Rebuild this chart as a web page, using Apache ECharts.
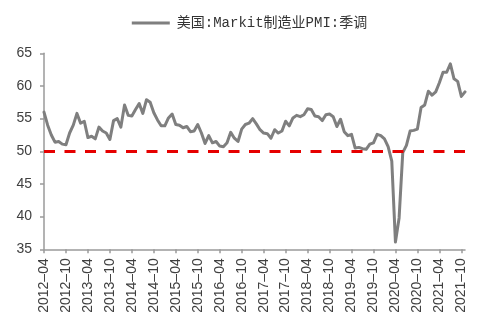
<!DOCTYPE html>
<html>
<head>
<meta charset="utf-8">
<script src="https://cdn.jsdelivr.net/npm/echarts@6/dist/echarts.min.js"></script>
<style>
  html, body { margin: 0; padding: 0; background: #ffffff; }
  #chart { width: 499px; height: 326px; }
</style>
</head>
<body>
<div id="chart"></div>
<script>
// Monthly categories, 2012-04 through 2021-11
const months = [];
for (let y = 2012; y <= 2021; y++) {
  for (let m = 1; m <= 12; m++) {
    if (y === 2012 && m < 4) continue;
    if (y === 2021 && m > 11) continue;
    months.push(y + '-' + String(m).padStart(2, '0'));
  }
}

const seriesName = '美国:Markit制造业PMI:季调';

// US Markit manufacturing PMI (seasonally adjusted), one value per month
const pmi2012 = [56.0, 54.0, 52.5, 51.4, 51.5, 51.1, 51.0, 52.8, 54.0];
const pmi2013 = [55.8, 54.3, 54.6, 52.1, 52.3, 51.9, 53.7, 53.1, 52.8, 51.8, 54.7, 55.0];
const pmi2014 = [53.7, 57.1, 55.5, 55.4, 56.4, 57.3, 55.8, 57.9, 57.5, 55.9, 54.8, 53.9];
const pmi2015 = [53.9, 55.1, 55.7, 54.1, 54.0, 53.6, 53.8, 53.0, 53.1, 54.1, 52.8, 51.2];
const pmi2016 = [52.4, 51.3, 51.5, 50.8, 50.7, 51.3, 52.9, 52.0, 51.5, 53.4, 54.1, 54.3];
const pmi2017 = [55.0, 54.2, 53.3, 52.8, 52.7, 52.0, 53.3, 52.8, 53.1, 54.6, 53.9, 55.1];
const pmi2018 = [55.5, 55.3, 55.6, 56.5, 56.4, 55.4, 55.3, 54.7, 55.6, 55.7, 55.3, 53.8];
const pmi2019 = [54.9, 53.0, 52.4, 52.6, 50.5, 50.6, 50.4, 50.3, 51.1, 51.3, 52.6, 52.4];
const pmi2020 = [51.9, 50.7, 48.5, 36.1, 39.8, 49.8, 50.9, 53.1, 53.2, 53.4, 56.7, 57.1];
const pmi2021 = [59.2, 58.6, 59.1, 60.5, 62.1, 62.1, 63.4, 61.1, 60.7, 58.4, 59.1];

const pmiValues = [].concat(pmi2012, pmi2013, pmi2014, pmi2015, pmi2016,
                            pmi2017, pmi2018, pmi2019, pmi2020, pmi2021);

// Expansion / contraction threshold
const threshold = 50;

// Value axis range and step
const yMin = 35, yMax = 65, yStep = 5;

const labelColor = '#404040';
const axisColor = '#9a9a9a';
const lineColor = '#7f7f7f';

const chart = echarts.init(document.getElementById('chart'), null, { renderer: 'canvas' });

chart.setOption({
  animation: false,
  backgroundColor: '#ffffff',
  legend: {
    top: 11,
    left: 'center',
    icon: 'rect',
    itemWidth: 38,
    itemHeight: 3,
    data: [seriesName],
    itemStyle: { color: lineColor },
    textStyle: {
      fontFamily: '"Liberation Mono", "Noto Sans CJK SC", monospace',
      fontSize: 14,
      color: '#333333',
      padding: [0, 0, 0, 2]
    }
  },
  grid: {
    left: 44,
    right: 34,
    top: 53.3,
    bottom: 76.7,
    containLabel: false
  },
  xAxis: {
    type: 'category',
    data: months,
    boundaryGap: false,
    axisLine: { lineStyle: { color: axisColor, width: 1.5 } },
    axisTick: {
      show: true,
      interval: 5,
      length: 4,
      lineStyle: { color: axisColor, width: 1.5 }
    },
    axisLabel: {
      interval: 5,
      rotate: 90,
      margin: 9,
      fontFamily: 'Arial, "Liberation Sans", sans-serif',
      fontSize: 14,
      color: labelColor,
      formatter: function (v) { return v.replace('-', '\u2013'); }
    },
    splitLine: { show: false }
  },
  yAxis: {
    type: 'value',
    min: yMin,
    max: yMax,
    interval: yStep,
    axisLine: { show: true, lineStyle: { color: axisColor, width: 1.5 } },
    axisTick: { show: true, length: 4, lineStyle: { color: axisColor, width: 1.5 } },
    axisLabel: {
      margin: 12,
      fontFamily: 'Arial, "Liberation Sans", sans-serif',
      fontSize: 14,
      color: labelColor
    },
    splitLine: { show: false }
  },
  series: [
    {
      name: seriesName,
      type: 'line',
      data: pmiValues,
      symbol: 'none',
      showSymbol: false,
      smooth: false,
      lineStyle: { color: lineColor, width: 3, cap: 'round', join: 'round' },
      itemStyle: { color: lineColor },
      markLine: {
        silent: true,
        symbol: 'none',
        label: { show: false },
        lineStyle: { color: '#e60000', width: 3, type: [11, 9.5] },
        data: [{ yAxis: threshold }]
      }
    }
  ]
});
</script>
</body>
</html>
